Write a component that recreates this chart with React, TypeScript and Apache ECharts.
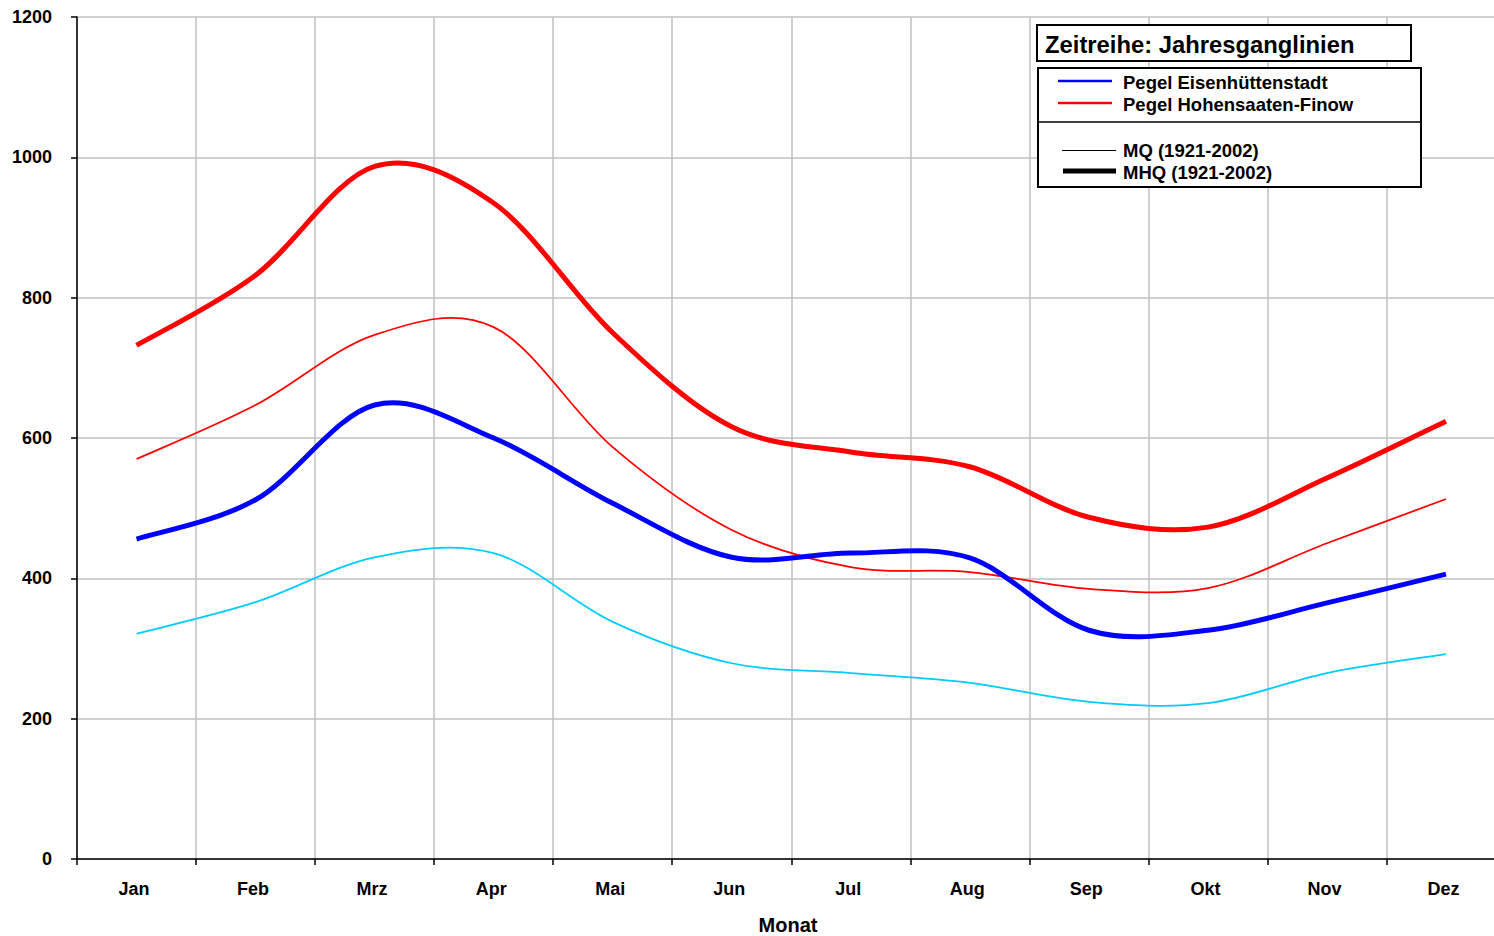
import React, { useEffect, useRef } from "react";
import * as echarts from "echarts";

const months = ["Jan", "Feb", "Mrz", "Apr", "Mai", "Jun", "Jul", "Aug", "Sep", "Okt", "Nov", "Dez"];
const yTicks = [0, 200, 400, 600, 800, 1000, 1200];

// Pegel Hohensaaten-Finow
const hohMHQ = [732, 832, 987, 935, 750, 616, 580, 559, 487, 473, 543, 624];
const hohMQ = [570, 647, 747, 758, 587, 469, 416, 409, 385, 386, 450, 513];
// Pegel Eisenhüttenstadt
const eisMHQ = [456, 512, 647, 600, 507, 430, 436, 429, 326, 326, 365, 406];
const eisMQ = [321, 366, 430, 436, 338, 279, 265, 251, 224, 222, 265, 292];

const FONT = '"Liberation Sans", Arial, sans-serif';

function smoothPath(pts: number[][]): string {
  let d = `M${pts[0][0]},${pts[0][1]}`;
  for (let i = 0; i < pts.length - 1; i++) {
    const p0 = pts[i - 1] || pts[i];
    const p1 = pts[i];
    const p2 = pts[i + 1];
    const p3 = pts[i + 2] || p2;
    const c1x = p1[0] + (p2[0] - p0[0]) / 6;
    const c1y = p1[1] + (p2[1] - p0[1]) / 6;
    const c2x = p2[0] - (p3[0] - p1[0]) / 6;
    const c2y = p2[1] - (p3[1] - p1[1]) / 6;
    d += ` C${c1x},${c1y} ${c2x},${c2y} ${p2[0]},${p2[1]}`;
  }
  return d;
}

function curveSeries(name: string, values: number[], color: string, width: number) {
  return {
    name,
    type: "custom",
    coordinateSystem: "cartesian2d",
    data: values.map((v, i) => [i, v]),
    encode: { x: 0, y: 1 },
    renderItem: (params: any, api: any) => {
      if (params.dataIndex !== 0) return null;
      const pts = values.map((v, i) => api.coord([i, v]));
      return {
        type: "path",
        shape: { pathData: smoothPath(pts) },
        style: { fill: "none", stroke: color, lineWidth: width, lineJoin: "round", lineCap: "butt" },
      };
    },
  };
}

export default function App() {
  const ref = useRef<HTMLDivElement>(null);
  useEffect(() => {
    if (!ref.current) return;
    const chart = echarts.init(ref.current, null, { renderer: "svg" });
    const legendFont = `bold 18.5px ${FONT}`;
    chart.setOption({
      animation: false,
      backgroundColor: "#fff",
      grid: { left: 77, top: 17, right: 0.5, bottom: 77, containLabel: false },
      xAxis: {
        type: "category",
        data: months,
        boundaryGap: true,
        axisLine: { show: true, lineStyle: { color: "#000", width: 1.5 } },
        axisTick: { show: true, length: 6, lineStyle: { color: "#000", width: 1.5 } },
        axisLabel: { fontFamily: FONT, fontWeight: "bold", fontSize: 18, color: "#000", margin: 21, padding: [0, 5, 0, 0] },
        splitLine: { show: true, lineStyle: { color: "#c0c0c0", width: 1.5 } },
      },
      yAxis: {
        type: "value",
        min: yTicks[0],
        max: yTicks[yTicks.length - 1],
        interval: 200,
        axisLine: { show: true, lineStyle: { color: "#000", width: 1.5 } },
        axisTick: { show: true, length: 6, lineStyle: { color: "#000", width: 1.5 } },
        axisLabel: {
          fontFamily: FONT,
          fontWeight: "bold",
          fontSize: 18,
          color: "#000",
          margin: 25,
          formatter: (v: number) => String(v),
        },
        splitLine: { show: true, lineStyle: { color: "#c0c0c0", width: 1.5 } },
      },
      series: [
        curveSeries("Pegel Hohensaaten-Finow MQ (1921-2002)", hohMQ, "#ff0000", 1.75),
        curveSeries("Pegel Eisenhüttenstadt MQ (1921-2002)", eisMQ, "#00ccff", 1.75),
        curveSeries("Pegel Hohensaaten-Finow MHQ (1921-2002)", hohMHQ, "#ff0000", 5),
        curveSeries("Pegel Eisenhüttenstadt MHQ (1921-2002)", eisMHQ, "#0000ff", 5),
      ],
      graphic: [
        { type: "text", x: 788, y: 925, style: { text: "Monat", font: `bold 20px ${FONT}`, fill: "#000", align: "center", verticalAlign: "middle" } },
        { type: "rect", shape: { x: 1037, y: 25, width: 374, height: 36 }, style: { fill: "#fff", stroke: "#000", lineWidth: 2 }, z: 100 },
        { type: "text", x: 1045, y: 44, style: { text: "Zeitreihe: Jahresganglinien", font: `bold 23.8px ${FONT}`, fill: "#000", verticalAlign: "middle" }, z: 101 },
        { type: "rect", shape: { x: 1038, y: 68, width: 383, height: 119 }, style: { fill: "#fff", stroke: "#000", lineWidth: 2 }, z: 100 },
        { type: "line", shape: { x1: 1038, y1: 122, x2: 1421, y2: 122 }, style: { stroke: "#000", lineWidth: 1.5 }, z: 101 },
        { type: "line", shape: { x1: 1058, y1: 81, x2: 1112, y2: 81 }, style: { stroke: "#0000ff", lineWidth: 2.5 }, z: 101 },
        { type: "text", x: 1123, y: 82, style: { text: "Pegel Eisenhüttenstadt", font: legendFont, fill: "#000", verticalAlign: "middle" }, z: 101 },
        { type: "line", shape: { x1: 1058, y1: 103, x2: 1112, y2: 103 }, style: { stroke: "#ff0000", lineWidth: 2.5 }, z: 101 },
        { type: "text", x: 1123, y: 104, style: { text: "Pegel Hohensaaten-Finow", font: legendFont, fill: "#000", verticalAlign: "middle" }, z: 101 },
        { type: "line", shape: { x1: 1062, y1: 150.5, x2: 1116, y2: 150.5 }, style: { stroke: "#000", lineWidth: 1 }, z: 101 },
        { type: "text", x: 1123, y: 150, style: { text: "MQ (1921-2002)", font: legendFont, fill: "#000", verticalAlign: "middle" }, z: 101 },
        { type: "line", shape: { x1: 1063, y1: 171, x2: 1116, y2: 171 }, style: { stroke: "#000", lineWidth: 5 }, z: 101 },
        { type: "text", x: 1123, y: 172, style: { text: "MHQ (1921-2002)", font: legendFont, fill: "#000", verticalAlign: "middle" }, z: 101 },
      ],
    });
    return () => chart.dispose();
  }, []);
  return (
    <div style={{ position: "absolute", left: 0, top: 0, width: 1494, height: 936, overflow: "hidden" }}>
      <div ref={ref} style={{ width: 1506, height: 936 }} />
    </div>
  );
}
